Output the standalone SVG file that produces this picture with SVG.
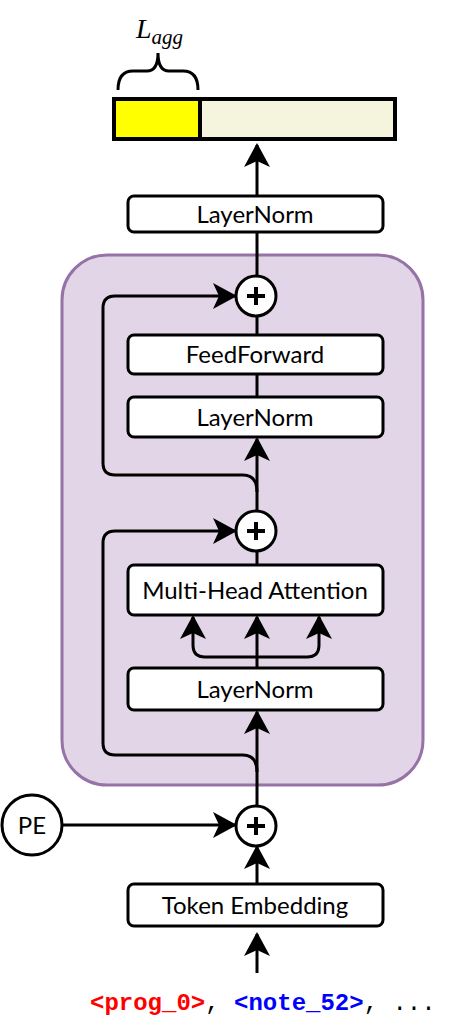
<svg xmlns="http://www.w3.org/2000/svg" width="462" height="1032" viewBox="0 0 462 1032">
<style>
.box{fill:#fff;stroke:#000;stroke-width:3}
.lbl{font-family:Lato,"Liberation Sans",sans-serif;font-size:24px;fill:#000;text-anchor:middle;dominant-baseline:central}
.ln{fill:none;stroke:#000;stroke-width:3}
.plus{fill:#fff;stroke:#000;stroke-width:3}
.pl{stroke:#000;stroke-width:4;fill:none}
.mono{font-family:"Liberation Mono",monospace;font-size:24px;font-weight:bold}
</style>
<defs>
<marker id="ah" viewBox="0 0 24 26" refX="22" refY="13" markerWidth="24" markerHeight="26" markerUnits="userSpaceOnUse" orient="auto">
<path d="M0,0 L24,13 L0,26 L6,13 Z" fill="#000"/>
</marker>
</defs>
<g id="container">
<rect x="62" y="255" width="361" height="530" rx="45" fill="#e1d5e7" stroke="#9673a6" stroke-width="3"/>
</g>
<g id="output">
<rect x="114" y="99" width="86" height="40" fill="#ffff00" stroke="#000" stroke-width="4"/>
<rect x="200" y="99" width="195" height="40" fill="#f5f4dc" stroke="#000" stroke-width="4"/>
<path d="M118,90 Q118,71 133,71 L147,71 Q158,71 158,53 Q158,71 169,71 L183,71 Q198,71 198,90" fill="none" stroke="#000" stroke-width="3"/>
<text x="136" y="38" font-family="'Liberation Serif',serif" font-style="italic" font-size="28">L<tspan font-size="21" dy="6">agg</tspan></text>
</g>
<g id="connectors">
<path class="ln" d="M257,196 L257,145" marker-end="url(#ah)"/>
<path class="ln" d="M257,232 L257,276"/>
<path class="ln" d="M257,316 L257,334"/>
<path class="ln" d="M257,375 L257,397"/>
<path class="ln" d="M257,511 L257,439" marker-end="url(#ah)"/>
<path class="ln" d="M257,492 Q257,475 243,475 L115,475 Q103,475 103,463 L103,308 Q103,296 115,296 L235,296" marker-end="url(#ah)"/>
<path class="ln" d="M257,551 L257,565"/>
<path class="ln" d="M257,668 L257,617" marker-end="url(#ah)"/>
<path class="ln" d="M257,657 L205,657 Q193,657 193,645 L193,617" marker-end="url(#ah)"/>
<path class="ln" d="M257,657 L307,657 Q319,657 319,645 L319,617" marker-end="url(#ah)"/>
<path class="ln" d="M257,806 L257,712" marker-end="url(#ah)"/>
<path class="ln" d="M257,772 Q257,755 243,755 L115,755 Q103,755 103,743 L103,543 Q103,531 115,531 L235,531" marker-end="url(#ah)"/>
<path class="ln" d="M63,825 L235,825" marker-end="url(#ah)"/>
<path class="ln" d="M257,884 L257,847" marker-end="url(#ah)"/>
<path class="ln" d="M257,973 L257,934" marker-end="url(#ah)"/>
</g>
<g id="layernorm-top">
<rect class="box" x="128" y="196" width="255" height="36" rx="6"/>
<text class="lbl" x="255" y="213">LayerNorm</text>
</g>
<g id="add1">
<circle class="plus" cx="256" cy="296" r="20"/>
<path class="pl" d="M247,296 H265 M256,287 V305"/>
</g>
<g id="feedforward">
<rect class="box" x="128" y="335" width="255" height="39" rx="6"/>
<text class="lbl" x="255" y="353">FeedForward</text>
</g>
<g id="layernorm2">
<rect class="box" x="128" y="397" width="255" height="40" rx="6"/>
<text class="lbl" x="255" y="416">LayerNorm</text>
</g>
<g id="add2">
<circle class="plus" cx="256" cy="531" r="20"/>
<path class="pl" d="M247,531 H265 M256,522 V540"/>
</g>
<g id="mha">
<rect class="box" x="128" y="565" width="255" height="50" rx="6"/>
<text class="lbl" x="255" y="589">Multi-Head Attention</text>
</g>
<g id="layernorm3">
<rect class="box" x="128" y="668" width="255" height="42" rx="6"/>
<text class="lbl" x="255" y="688">LayerNorm</text>
</g>
<g id="pe">
<circle class="plus" cx="32" cy="825" r="30"/>
<text class="lbl" x="32" y="824">PE</text>
</g>
<g id="add3">
<circle class="plus" cx="256" cy="826" r="20"/>
<path class="pl" d="M247,826 H265 M256,817 V835"/>
</g>
<g id="token-embedding">
<rect class="box" x="128" y="884" width="255" height="42" rx="6"/>
<text class="lbl" x="255" y="904">Token Embedding</text>
</g>
<g id="input-tokens">
<text class="mono" x="90" y="1010"><tspan fill="#ff0000">&lt;prog_0&gt;</tspan><tspan fill="#000" font-weight="normal">, </tspan><tspan fill="#0000ff">&lt;note_52&gt;</tspan><tspan fill="#000" font-weight="normal">, ...</tspan></text>
</g>
</svg>
